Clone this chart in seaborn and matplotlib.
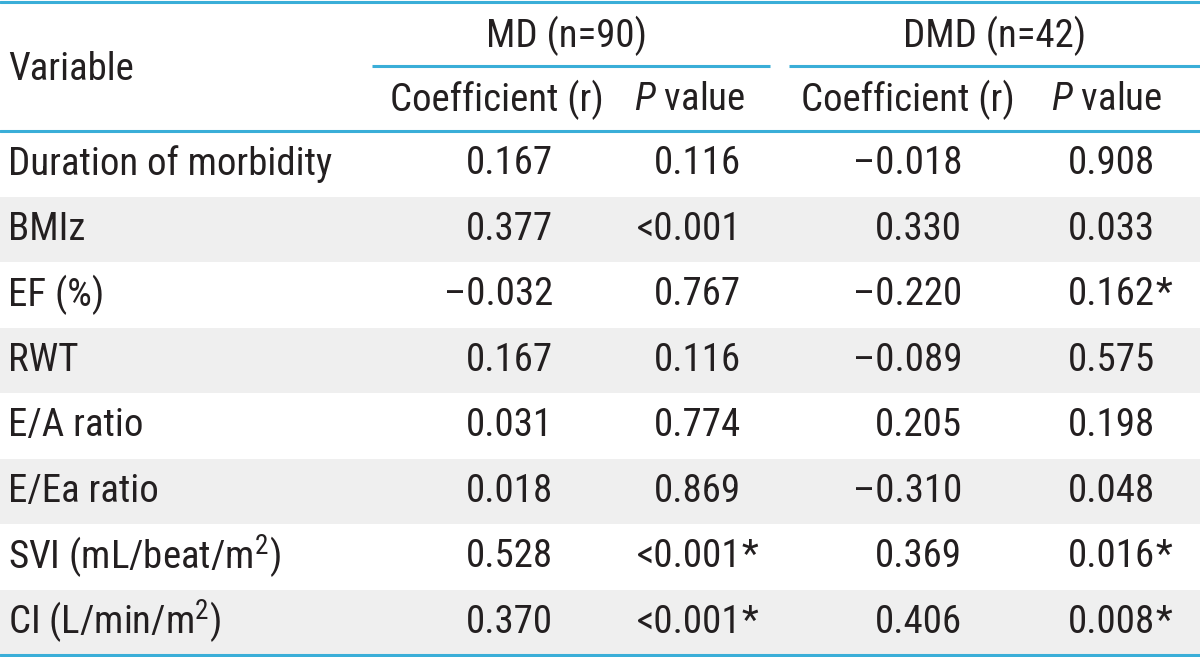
import matplotlib
matplotlib.use('Agg')
import matplotlib.pyplot as plt
import matplotlib.font_manager as fm
import seaborn as sns

# table content
variables = ['Duration of morbidity', 'BMIz', 'EF (%)', 'RWT', 'E/A ratio',
             'E/Ea ratio', 'SVI (mL/beat/m$^{2}$)', 'CI (L/min/m$^{2}$)']
md_r = ['0.167', '0.377', '\u20130.032', '0.167', '0.031', '0.018', '0.528', '0.370']
md_p = ['0.116', '<0.001', '0.767', '0.116', '0.774', '0.869', '<0.001*', '<0.001*']
dmd_r = ['\u20130.018', '0.330', '\u20130.220', '\u20130.089', '0.205', '\u20130.310', '0.369', '0.406']
dmd_p = ['0.908', '0.033', '0.162*', '0.575', '0.198', '0.048', '0.016*', '0.008*']
groups = ['MD (n=90)', 'DMD (n=42)']
sub_heads = ['Coefficient (r)', '$\\mathit{P}$ value']

sns.set_theme(style='white')
names = {f.name for f in fm.fontManager.ttflist}
fam, fs = 'Roboto', 25
for cand, size in [('Roboto Condensed', 28), ('Liberation Sans Narrow', 30)]:
    if cand in names:
        fam, fs = cand, size
        break
plt.rcParams['font.family'] = [fam, 'DejaVu Sans']
plt.rcParams['mathtext.fontset'] = 'custom'
plt.rcParams['mathtext.rm'] = fam
plt.rcParams['mathtext.it'] = fam + ':italic'

ink = '#231f20'
blue = '#3aaed8'
band = '#efefef'

W, H = 1200, 657
hdr = 131  # header bottom
rh = 65.5  # row height

fig = plt.figure(figsize=(W / 100, H / 100), dpi=100)
ax = fig.add_axes([0, 0, 1, 1])
ax.set_xlim(0, W)
ax.set_ylim(H, 0)
ax.axis('off')

# zebra rows
for i in range(len(variables)):
    if i % 2 == 1:
        ax.axhspan(hdr + i * rh, hdr + (i + 1) * rh, color=band, lw=0, zorder=0)

# rules
ax.axhline(1.5, color=blue, lw=2.2)
ax.axhline(hdr, color=blue, lw=2.2)
ax.axhline(hdr + len(variables) * rh, color=blue, lw=2.2)
ax.plot([372, 770], [66, 66], color=blue, lw=2.2, solid_capstyle='butt')
ax.plot([789, 1200], [66, 66], color=blue, lw=2.2, solid_capstyle='butt')

# header
ax.text(8, 70, 'Variable', fontsize=fs, color=ink, va='center', ha='left')
for gx, g in zip([567, 995], groups):
    ax.text(gx, 36, g, fontsize=fs, color=ink, va='center', ha='center')
for sx, s in zip([497, 690, 908, 1107], sub_heads * 2):
    ax.text(sx, 100, s, fontsize=fs, color=ink, va='center', ha='center')

# body
cols = [(553, md_r), (741, md_p), (962, dmd_r), (1155, dmd_p)]
for i, v in enumerate(variables):
    yc = hdr + (i + 0.5) * rh
    ax.text(8, yc, v, fontsize=fs, color=ink, va='center', ha='left')
    for cx, vals in cols:
        s = vals[i]
        star = s.endswith('*')
        ax.text(cx, yc, s.rstrip('*'), fontsize=fs, color=ink, va='center', ha='right')
        if star:
            ax.text(cx + 1, yc, '*', fontsize=fs, color=ink, va='center', ha='left')

fig.savefig('out.png', dpi=100)
plt.close(fig)
